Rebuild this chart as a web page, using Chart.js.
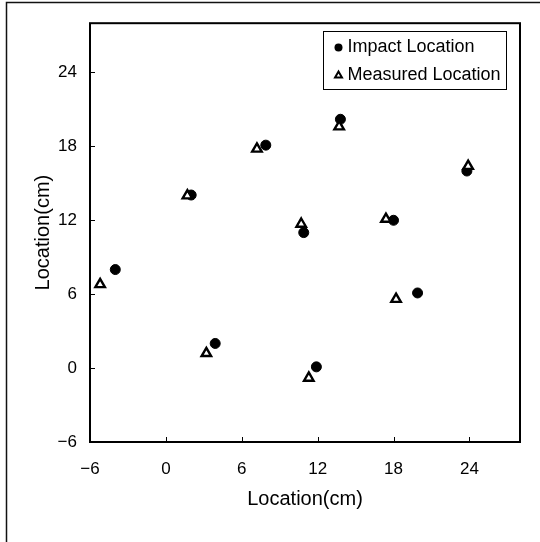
<!DOCTYPE html>
<html>
<head>
<meta charset="utf-8">
<script src="https://cdn.jsdelivr.net/npm/chart.js@4.4.0/dist/chart.umd.min.js"></script>
<style>
  html, body { margin: 0; padding: 0; background: #fff; }
  #wrap { position: relative; width: 540px; height: 542px; }
</style>
</head>
<body>
<div id="wrap"><canvas id="myScatterChart"></canvas></div>
<script>
// impact location (filled circles)
const impactX = [-4, 3.9, 2, 7.9, 13.8, 10.9, 11.9, 18, 19.9, 23.8];
const impactY = [8, 2, 14.05, 18.1, 20.2, 11, 0.1, 12, 6.1, 16];
// measured location (open triangles)
const measuredX = [-5.2, 3.2, 1.7, 7.2, 13.7, 10.7, 11.3, 17.4, 18.2, 23.9];
const measuredY = [6.8, 1.2, 14, 17.8, 19.6, 11.7, -0.8, 12.1, 5.6, 16.4];
const xTicks = [-6, 0, 6, 12, 18, 24];
const yTicks = [-6, 0, 6, 12, 18, 24];
const seriesLabels = ['Impact Location', 'Measured Location'];
const axisTitle = 'Location(cm)';

Chart.defaults.font.family = '"Liberation Sans", Arial, sans-serif';
Chart.defaults.color = '#000';

const toPoints = (xs, ys) => xs.map((v, i) => ({ x: v, y: ys[i] }));
const minus = v => String(v).replace('-', '\u2212');

// frame, inside ticks and boxed legend
const framePlugin = {
    id: 'frame',
    beforeDraw(chart) {
        const ctx = chart.ctx;
        ctx.save();
        ctx.strokeStyle = '#111';
        ctx.lineWidth = 1.5;
        ctx.beginPath();
        ctx.moveTo(6.5, chart.height);
        ctx.lineTo(6.5, 2.5);
        ctx.lineTo(chart.width, 2.5);
        ctx.stroke();
        ctx.restore();
    },
    beforeDatasetsDraw(chart) {
        const { ctx, chartArea: a, scales: { x, y } } = chart;
        ctx.save();
        ctx.strokeStyle = '#000';
        ctx.lineWidth = 1;
        ctx.beginPath();
        x.ticks.forEach(t => {
            const px = Math.round(x.getPixelForValue(t.value)) + 0.5;
            ctx.moveTo(px, a.bottom);
            ctx.lineTo(px, a.bottom - 5);
        });
        y.ticks.forEach(t => {
            const py = Math.round(y.getPixelForValue(t.value)) + 0.5;
            ctx.moveTo(a.left, py);
            ctx.lineTo(a.left + 5, py);
        });
        ctx.stroke();
        ctx.lineWidth = 2;
        ctx.strokeRect(a.left, a.top, a.right - a.left, a.bottom - a.top);
        ctx.restore();
    },
    afterDatasetsDraw(chart) {
        const { ctx, chartArea: a } = chart;
        const w = 183, h = 58;
        const bx = Math.round(a.right - 14 - w) + 0.5, by = Math.round(a.top + 8) + 0.5;
        ctx.save();
        ctx.fillStyle = '#fff';
        ctx.fillRect(bx, by, w, h);
        ctx.strokeStyle = '#000';
        ctx.lineWidth = 1;
        ctx.strokeRect(bx, by, w, h);
        ctx.font = '18px "Liberation Sans", Arial, sans-serif';
        ctx.textBaseline = 'middle';
        ctx.fillStyle = '#000';
        const mx = bx + 15;
        // circle marker
        ctx.beginPath();
        ctx.arc(mx, by + 16, 4, 0, Math.PI * 2);
        ctx.fill();
        ctx.fillText(seriesLabels[0], bx + 24, by + 16);
        // triangle marker
        const r = 4, ty = by + 44;
        ctx.beginPath();
        ctx.moveTo(mx, ty - r);
        ctx.lineTo(mx + r * 0.866, ty + r * 0.5);
        ctx.lineTo(mx - r * 0.866, ty + r * 0.5);
        ctx.closePath();
        ctx.lineWidth = 2;
        ctx.stroke();
        ctx.fillText(seriesLabels[1], bx + 24, ty);
        ctx.restore();
    }
};

const config = {
    type: 'scatter',
    data: {
        datasets: [{
            label: seriesLabels[0],
            data: toPoints(impactX, impactY),
            pointStyle: 'circle',
            pointRadius: 5,
            backgroundColor: '#000',
            borderColor: '#000',
            borderWidth: 1,
            order: 2
        }, {
            label: seriesLabels[1],
            data: toPoints(measuredX, measuredY),
            pointStyle: 'triangle',
            pointRadius: 5.5,
            backgroundColor: '#fff',
            borderColor: '#000',
            borderWidth: 2.4,
            order: 1
        }]
    },
    options: {
        responsive: true,
        maintainAspectRatio: false,
        animation: false,
        layout: { padding: { top: 22, right: 20, left: 0, bottom: 0 } },
        plugins: { legend: { display: false }, tooltip: { enabled: false } },
        scales: {
            x: {
                type: 'linear',
                min: -6,
                max: 28,
                afterBuildTicks: s => { s.ticks = xTicks.map(v => ({ value: v })); },
                afterFit: s => { s.height = 100; },
                grid: { display: false, drawTicks: false },
                border: { display: false },
                ticks: { color: '#000', font: { size: 17 }, padding: 17, callback: minus },
                title: { display: true, text: axisTitle, color: '#000', font: { size: 20 }, padding: { top: 0, bottom: 31 } }
            },
            y: {
                type: 'linear',
                min: -6,
                max: 28,
                afterBuildTicks: s => { s.ticks = yTicks.map(v => ({ value: v })); },
                afterFit: s => { s.width = 90; },
                grid: { display: false, drawTicks: false },
                border: { display: false },
                ticks: { color: '#000', font: { size: 17 }, padding: 13, callback: minus },
                title: { display: true, text: axisTitle, color: '#000', font: { size: 20 }, padding: { top: 31, bottom: 0 } }
            }
        }
    },
    plugins: [framePlugin]
};

new Chart(document.getElementById('myScatterChart'), config);
</script>
</body>
</html>
